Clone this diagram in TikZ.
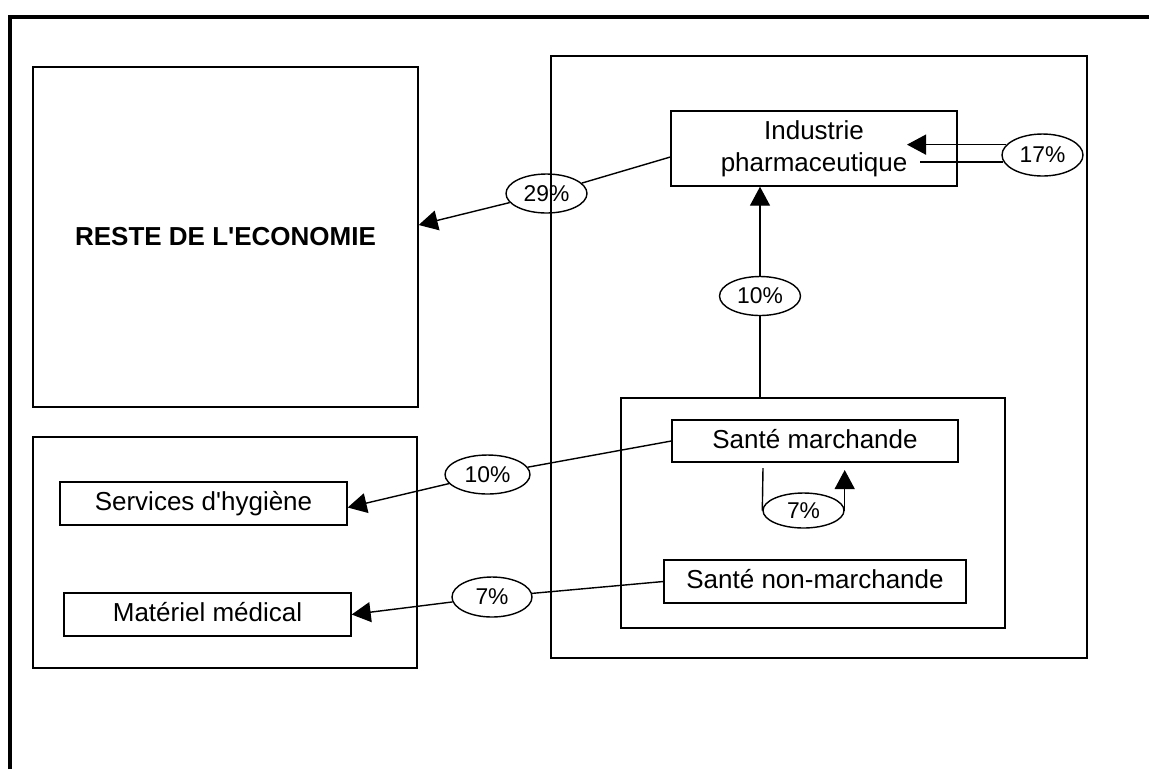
\documentclass[tikz,border=0pt]{standalone}
\usepackage{fontspec}
\setmainfont{Liberation Sans}
\usetikzlibrary{calc,arrows.meta,shapes}
\tikzstyle{box}    = [draw, rectangle, line width=0.8pt, inner sep=0pt, align=center]
\tikzstyle{sector} = [draw, rectangle, line width=0.8pt, inner sep=0pt, text height=11pt, text depth=3pt]
\tikzstyle{pct}    = [draw, ellipse, line width=0.8pt, inner sep=0pt, minimum width=1.62cm, minimum height=0.78cm, font=\fontsize{13}{15}\selectfont]
\tikzstyle{link}   = [line width=0.8pt]
\tikzstyle{arrow}  = [line width=0.8pt, -{Triangle[length=0.38cm,width=0.4cm]}]

\begin{document}
\begin{tikzpicture}[x=0.02cm, y=-0.02cm, font=\fontsize{14.8}{18.1}\selectfont]
        \useasboundingbox (0,0) rectangle (1149,769);
        % cadre
        \draw[line width=2.2pt] (10,769) -- (10,17) -- (1149,17);

        % reste de l'economie
        \node[box, minimum width=7.7cm, minimum height=6.8cm] (reste) at (225.5,237) {\textbf{RESTE DE L\textquotesingle ECONOMIE}};
        \node[box, minimum width=7.68cm, minimum height=4.62cm] (autres) at (225,552.5) {};
        \node[sector, minimum width=5.74cm, minimum height=0.86cm] (hyg) at (203.5,503.5) {Services d\textquotesingle hygiène};
        \node[sector, minimum width=5.74cm, minimum height=0.86cm] (mat) at (207.5,614.5) {Matériel médical};

        % secteur sante
        \node[box, minimum width=10.72cm, minimum height=12.04cm] (sante) at (819,357) {};
        \node[box, minimum width=7.68cm, minimum height=4.6cm] (soins) at (813,513) {};
        \node[box, minimum width=5.72cm, minimum height=1.5cm] (indus) at (814,148.5) {Industrie\\pharmaceutique};
        \node[sector, minimum width=5.72cm, minimum height=0.84cm] (march) at (815,441) {Santé marchande};
        \node[sector, minimum width=6.04cm, minimum height=0.86cm] (nmarch) at (815,581.5) {Santé non-marchande};

        % parts
        \node[pct] (p29) at (546.5,193.5) {29\%};
        \node[pct, minimum height=0.84cm] (p17) at (1042.5,155) {17\%};
        \node[pct] (p10h) at (760,296) {10\%};
        \node[pct, minimum width=1.7cm] (p10s) at (487.5,474.5) {10\%};
        \node[pct, minimum height=0.7cm] (p7m) at (803.5,510.5) {7\%};
        \node[pct, minimum width=1.6cm, minimum height=0.8cm] (p7n) at (492,597) {7\%};

        \coordinate (a17) at (907,145);
        \coordinate (b17) at (920,162);
        \coordinate (l7a) at (763,468);
        \coordinate (l7b) at (847,470);

        % flux
        \draw[link] ($(indus.west)+(0,8.5)$) -- (p29);
        \draw[arrow] (p29) -- ($(reste.east)+(0,-12)$);
        \draw[arrow] (p17.164) -- (p17.164 -| a17);
        \draw[link] (p17.190) -- (p17.190 -| b17);
        \draw[link] (soins.north -| p10h) -- (p10h);
        \draw[arrow] (p10h) -- (p10h |- indus.south);
        \draw[link] (march.west) -- (p10s);
        \draw[arrow] (p10s) -- ($(hyg.east)+(0,4)$);
        \draw[link] (l7a) -- (p7m.west);
        \draw[arrow] (p7m.east) -- (p7m.east |- l7b);
        \draw[link] (nmarch.west) -- (p7n);
        \draw[arrow] (p7n) -- (mat.east);
\end{tikzpicture}
\end{document}
